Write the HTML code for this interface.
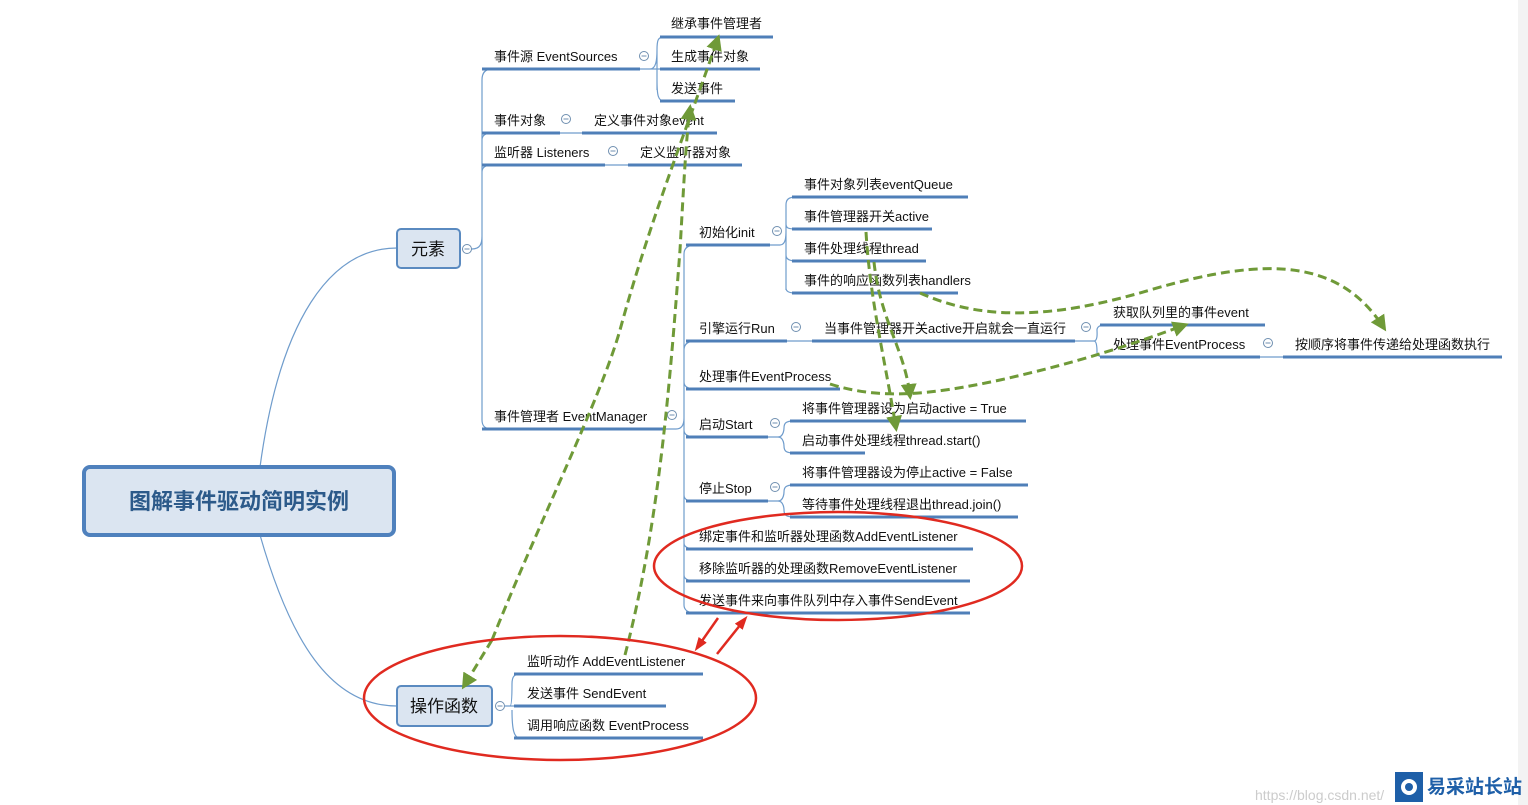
<!DOCTYPE html>
<html><head><meta charset="utf-8"><style>
html,body{margin:0;padding:0;background:#fff;}
svg{display:block}
text{font-family:"Liberation Sans","Noto Sans CJK SC",sans-serif;font-size:13px;fill:#111;}
.u{stroke:#4f7fb8;stroke-width:3;fill:none}
.b{stroke:#6f9ccc;stroke-width:1.2;fill:none}
.c{fill:#fff;stroke:#6f8fb0;stroke-width:1}
.m{stroke:#6f8fb0;stroke-width:1}
.g{stroke:#6f9a38;stroke-width:3;fill:none;stroke-dasharray:9 5}
.r{stroke:#e02a20;stroke-width:2.5;fill:none}
</style></head><body>
<svg width="1528" height="805" viewBox="0 0 1528 805" xmlns="http://www.w3.org/2000/svg">
<defs>
<marker id="gb" markerWidth="16" markerHeight="16" refX="12" refY="8" orient="auto" markerUnits="userSpaceOnUse" viewBox="0 0 16 16"><path d="M0,0 L16,8 L0,16 Z" fill="#6f9a38"/></marker>
<marker id="ra" markerWidth="14" markerHeight="14" refX="10" refY="7" orient="auto" markerUnits="userSpaceOnUse" viewBox="0 0 14 14"><path d="M0,2 L14,7 L0,12 Z" fill="#e02a20"/></marker>
</defs>
<path class="b" d="M260,467 C280,320 330,248 397,248"/>
<path class="b" d="M260,535 C290,640 330,706 397,706"/>
<rect x="84" y="467" width="310" height="68" rx="6" fill="#dbe5f1" stroke="#4f81bd" stroke-width="4"/>
<text x="239" y="509" text-anchor="middle" style="font-size:22px;font-weight:bold;fill:#2c5a8a">图解事件驱动简明实例</text>
<rect x="397" y="229" width="63" height="39" rx="4" fill="#dbe5f1" stroke="#5a8ac0" stroke-width="2"/>
<text x="428" y="255" text-anchor="middle" style="font-size:17px">元素</text>
<g id="circ"></g>
<path class="b" d="M462,249 L472,249 C480,249 482,244 482,236 M482,420 L482,80 C482,72 486,69 492,69 M482,140 C482,135 486,133 492,133 M482,172 C482,167 486,165 492,165 M482,420 C482,427 486,429 492,429"/>
<line class="u" x1="482" y1="69" x2="640" y2="69"/><text x="494" y="61">事件源 EventSources</text>
<path class="b" d="M640,69 L650,69 C656,69 657,60 657,50 C657,40 658,37 664,37 M650,69 L660,69 M657,80 C657,95 658,101 664,101 M657,50 L657,90"/>
<line class="u" x1="660" y1="37" x2="773" y2="37"/><text x="671" y="28">继承事件管理者</text>
<line class="u" x1="660" y1="69" x2="760" y2="69"/><text x="671" y="61">生成事件对象</text>
<line class="u" x1="660" y1="101" x2="735" y2="101"/><text x="671" y="93">发送事件</text>
<line class="u" x1="482" y1="133" x2="560" y2="133"/><text x="494" y="125">事件对象</text>
<line class="b" x1="560" y1="133" x2="582" y2="133"/>
<line class="u" x1="582" y1="133" x2="717" y2="133"/><text x="594" y="125">定义事件对象event</text>
<line class="u" x1="482" y1="165" x2="605" y2="165"/><text x="494" y="157">监听器 Listeners</text>
<line class="b" x1="605" y1="165" x2="628" y2="165"/>
<line class="u" x1="628" y1="165" x2="742" y2="165"/><text x="640" y="157">定义监听器对象</text>
<line class="u" x1="482" y1="429" x2="665" y2="429"/><text x="494" y="421">事件管理者 EventManager</text>
<path class="b" d="M665,429 L676,429 C682,429 684,424 684,418 M684,605 L684,254 C684,248 688,245 696,245 M684,350 C684,344 688,341 696,341 M684,382 C684,387 688,389 696,389 M684,430 C684,435 688,437 696,437 M684,605 C684,610 688,613 696,613 M684,495 C684,500 688,501 696,501 M684,543 C684,547 688,549 696,549 M684,575 C684,579 688,581 696,581"/>
<line class="u" x1="686" y1="245" x2="770" y2="245"/><text x="699" y="237">初始化init</text>
<path class="b" d="M770,245 L780,245 C786,245 786,236 786,230 M786,290 L786,205 C786,200 788,197 796,197 M786,224 C786,228 788,229 796,229 M786,255 C786,258 788,261 796,261 M786,288 C786,291 788,293 796,293"/>
<line class="u" x1="792" y1="197" x2="968" y2="197"/><text x="804" y="189">事件对象列表eventQueue</text>
<line class="u" x1="792" y1="229" x2="932" y2="229"/><text x="804" y="221">事件管理器开关active</text>
<line class="u" x1="792" y1="261" x2="926" y2="261"/><text x="804" y="253">事件处理线程thread</text>
<line class="u" x1="792" y1="293" x2="958" y2="293"/><text x="804" y="285">事件的响应函数列表handlers</text>
<line class="u" x1="686" y1="341" x2="787" y2="341"/><text x="699" y="333">引擎运行Run</text>
<line class="b" x1="787" y1="341" x2="812" y2="341"/>
<line class="u" x1="812" y1="341" x2="1075" y2="341"/><text x="824" y="333">当事件管理器开关active开启就会一直运行</text>
<path class="b" d="M1075,341 L1094,341 C1098,341 1097,332 1097,330 C1097,327 1100,325 1104,325 M1094,341 C1097,341 1097,350 1097,352 C1097,356 1100,357 1104,357"/>
<line class="u" x1="1100" y1="325" x2="1265" y2="325"/><text x="1113" y="317">获取队列里的事件event</text>
<line class="u" x1="1100" y1="357" x2="1260" y2="357"/><text x="1113" y="349">处理事件EventProcess</text>
<line class="b" x1="1260" y1="357" x2="1283" y2="357"/>
<line class="u" x1="1283" y1="357" x2="1502" y2="357"/><text x="1295" y="349">按顺序将事件传递给处理函数执行</text>
<line class="u" x1="686" y1="389" x2="840" y2="389"/><text x="699" y="381">处理事件EventProcess</text>
<line class="u" x1="686" y1="437" x2="768" y2="437"/><text x="699" y="429">启动Start</text>
<path class="b" d="M768,437 L778,437 C784,437 784,428 784,428 C784,423 786,421 794,421 M778,437 C784,437 784,446 784,446 C784,451 786,453 794,453"/>
<line class="u" x1="790" y1="421" x2="1026" y2="421"/><text x="802" y="413">将事件管理器设为启动active = True</text>
<line class="u" x1="790" y1="453" x2="865" y2="453"/><text x="802" y="445">启动事件处理线程thread.start()</text>
<line class="u" x1="686" y1="501" x2="768" y2="501"/><text x="699" y="493">停止Stop</text>
<path class="b" d="M768,501 L778,501 C784,501 784,492 784,492 C784,487 786,485 794,485 M778,501 C784,501 784,510 784,510 C784,515 786,517 794,517"/>
<line class="u" x1="790" y1="485" x2="1028" y2="485"/><text x="802" y="477">将事件管理器设为停止active = False</text>
<line class="u" x1="790" y1="517" x2="1018" y2="517"/><text x="802" y="509">等待事件处理线程退出thread.join()</text>
<line class="u" x1="686" y1="549" x2="973" y2="549"/><text x="699" y="541">绑定事件和监听器处理函数AddEventListener</text>
<line class="u" x1="686" y1="581" x2="970" y2="581"/><text x="699" y="573">移除监听器的处理函数RemoveEventListener</text>
<line class="u" x1="686" y1="613" x2="970" y2="613"/><text x="699" y="605">发送事件来向事件队列中存入事件SendEvent</text>
<rect x="397" y="686" width="95" height="40" rx="4" fill="#dbe5f1" stroke="#5a8ac0" stroke-width="2"/>
<text x="444" y="712" text-anchor="middle" style="font-size:17px">操作函数</text>
<path class="b" d="M505,706 L510,706 C512,706 512,690 512,684 C512,677 514,674 520,674 M510,706 L520,706 M512,710 C512,730 514,738 520,738"/>
<line class="u" x1="514" y1="674" x2="703" y2="674"/><text x="527" y="666">监听动作 AddEventListener</text>
<line class="u" x1="514" y1="706" x2="666" y2="706"/><text x="527" y="698">发送事件 SendEvent</text>
<line class="u" x1="514" y1="738" x2="703" y2="738"/><text x="527" y="730">调用响应函数 EventProcess</text>
<!-- collapse circles with minus -->
<g>
<circle class="c" cx="467" cy="249" r="4.5"/><line class="m" x1="464.5" y1="249" x2="469.5" y2="249"/>
<circle class="c" cx="644" cy="56" r="4.5"/><line class="m" x1="641.5" y1="56" x2="646.5" y2="56"/>
<circle class="c" cx="566" cy="119" r="4.5"/><line class="m" x1="563.5" y1="119" x2="568.5" y2="119"/>
<circle class="c" cx="613" cy="151" r="4.5"/><line class="m" x1="610.5" y1="151" x2="615.5" y2="151"/>
<circle class="c" cx="672" cy="415" r="4.5"/><line class="m" x1="669.5" y1="415" x2="674.5" y2="415"/>
<circle class="c" cx="777" cy="231" r="4.5"/><line class="m" x1="774.5" y1="231" x2="779.5" y2="231"/>
<circle class="c" cx="796" cy="327" r="4.5"/><line class="m" x1="793.5" y1="327" x2="798.5" y2="327"/>
<circle class="c" cx="1086" cy="327" r="4.5"/><line class="m" x1="1083.5" y1="327" x2="1088.5" y2="327"/>
<circle class="c" cx="1268" cy="343" r="4.5"/><line class="m" x1="1265.5" y1="343" x2="1270.5" y2="343"/>
<circle class="c" cx="775" cy="423" r="4.5"/><line class="m" x1="772.5" y1="423" x2="777.5" y2="423"/>
<circle class="c" cx="775" cy="487" r="4.5"/><line class="m" x1="772.5" y1="487" x2="777.5" y2="487"/>
<circle class="c" cx="500" cy="706" r="4.5"/><line class="m" x1="497.5" y1="706" x2="502.5" y2="706"/>
</g>
<!-- green dashed -->
<path class="g" d="M492,640 C540,520 600,400 620,330 C650,220 690,120 718,38" marker-end="url(#gb)"/>
<path class="g" d="M492,640 L464,686" marker-end="url(#gb)"/>
<path class="g" d="M625,655 C660,520 670,380 680,250 C684,180 686,140 690,108" marker-end="url(#gb)"/>
<path class="g" d="M866,232 C870,300 885,360 896,428" marker-end="url(#gb)"/>
<path class="g" d="M874,262 C880,320 905,350 910,396" marker-end="url(#gb)"/>
<path class="g" d="M920,293 C980,320 1050,320 1150,290 C1270,255 1340,260 1384,328" marker-end="url(#gb)"/>
<path class="g" d="M830,384 C880,400 930,395 1000,380 C1080,362 1130,345 1185,325" marker-end="url(#gb)"/>
<ellipse class="r" cx="838" cy="566" rx="184" ry="54"/>
<ellipse class="r" cx="560" cy="698" rx="196" ry="62"/>
<line class="r" x1="718" y1="618" x2="697" y2="648" marker-end="url(#ra)"/>
<line class="r" x1="717" y1="654" x2="745" y2="619" marker-end="url(#ra)"/>
<rect x="1518" y="0" width="10" height="805" fill="#f3f3f3"/>
<text x="1255" y="800" style="font-size:14px;fill:#ccc">https://blog.csdn.net/</text>
<rect x="1395" y="772" width="28" height="30" fill="#1e5fa8"/>
<circle cx="1409" cy="787" r="8" fill="#fff"/><circle cx="1409" cy="787" r="4" fill="#1e5fa8"/>
<text x="1427" y="793" style="font-size:19px;fill:#1e5fa8;font-weight:bold">易采站长站</text>
</svg>
</body></html>
